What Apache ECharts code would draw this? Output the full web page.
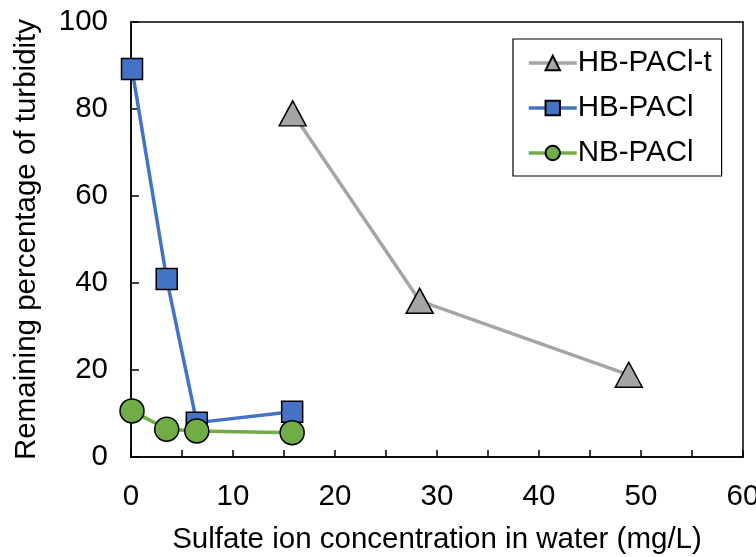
<!DOCTYPE html>
<html>
<head>
<meta charset="utf-8">
<script src="https://cdn.jsdelivr.net/npm/echarts@6/dist/echarts.min.js"></script>
<style>html,body{margin:0;padding:0;background:#fff}#c{width:756px;height:557px}</style>
</head>
<body>
<div id="c"></div>
<script>
const seriesNames = ['HB-PACl-t', 'HB-PACl', 'NB-PACl'];
const hbPaclT = [[15.85, 79.0], [28.3, 35.9], [48.8, 18.9]];
const hbPacl = [[0.1, 89.2], [3.5, 40.9], [6.45, 7.9], [15.8, 10.4]];
const nbPacl = [[0.1, 10.6], [3.5, 6.4], [6.45, 6.0], [15.8, 5.6]];
const xTicks = [0, 10, 20, 30, 40, 50, 60];
const yTicks = [0, 20, 40, 60, 80, 100];

const font = 'Liberation Sans, Arial, sans-serif';
const fs = 29.5;
const chart = echarts.init(document.getElementById('c'));
chart.setOption({
  animation: false,
  textStyle: { fontFamily: font },
  grid: { left: 131, right: 13, top: 22, bottom: 100, containLabel: false, outerBoundsMode: 'none',
    show: true, borderColor: '#000', borderWidth: 1.5 },
  legend: {
    orient: 'vertical', left: 513, top: 39,
    padding: [9, 10, 8, 14], itemGap: 15, itemWidth: 48, itemHeight: 18,
    borderColor: '#000', borderWidth: 1.2, backgroundColor: '#fff',
    lineStyle: { width: 3.5 },
    textStyle: { fontSize: fs, color: '#000', fontFamily: font, padding: [0, 0, 0, -4] },
    data: seriesNames
  },
  xAxis: {
    type: 'value', min: 0, max: 60, interval: 5,
    name: 'Sulfate ion concentration in water (mg/L)', nameLocation: 'middle', nameGap: 68,
    nameTextStyle: { fontSize: fs, color: '#000', fontFamily: font },
    axisLine: { lineStyle: { color: '#000', width: 1.5 } },
    axisTick: { inside: true, length: 7, lineStyle: { color: '#000', width: 1.5 } },
    axisLabel: { fontSize: fs, color: '#000', margin: 25, fontFamily: font,
      formatter: v => (xTicks.indexOf(v) >= 0 ? String(v) : '') },
    splitLine: { show: false }
  },
  yAxis: {
    type: 'value', min: 0, max: 100, interval: 20,
    name: 'Remaining percentage of turbidity', nameLocation: 'middle', nameGap: 89,
    nameTextStyle: { fontSize: fs, color: '#000', fontFamily: font },
    axisLine: { show: true, lineStyle: { color: '#000', width: 1.5 } },
    axisTick: { show: true, inside: true, length: 8, lineStyle: { color: '#000', width: 1.5 } },
    axisLabel: { fontSize: fs, color: '#000', margin: 23, fontFamily: font,
      formatter: v => (yTicks.indexOf(v) >= 0 ? String(v) : '') },
    splitLine: { show: false }
  },
  series: [
    { name: seriesNames[0], type: 'line', data: hbPaclT, symbol: 'triangle', symbolSize: [27, 25],
      lineStyle: { color: '#A5A5A5', width: 3.5 },
      itemStyle: { color: '#A5A5A5', borderColor: '#000', borderWidth: 1.5 } },
    { name: seriesNames[1], type: 'line', data: hbPacl, symbol: 'rect', symbolSize: 21,
      lineStyle: { color: '#4472C4', width: 3.5 },
      itemStyle: { color: '#4472C4', borderColor: '#000', borderWidth: 1.5 } },
    { name: seriesNames[2], type: 'line', data: nbPacl, symbol: 'circle', symbolSize: 24,
      lineStyle: { color: '#70AD47', width: 3.5 },
      itemStyle: { color: '#70AD47', borderColor: '#000', borderWidth: 1.5 } }
  ]
});
</script>
</body>
</html>
